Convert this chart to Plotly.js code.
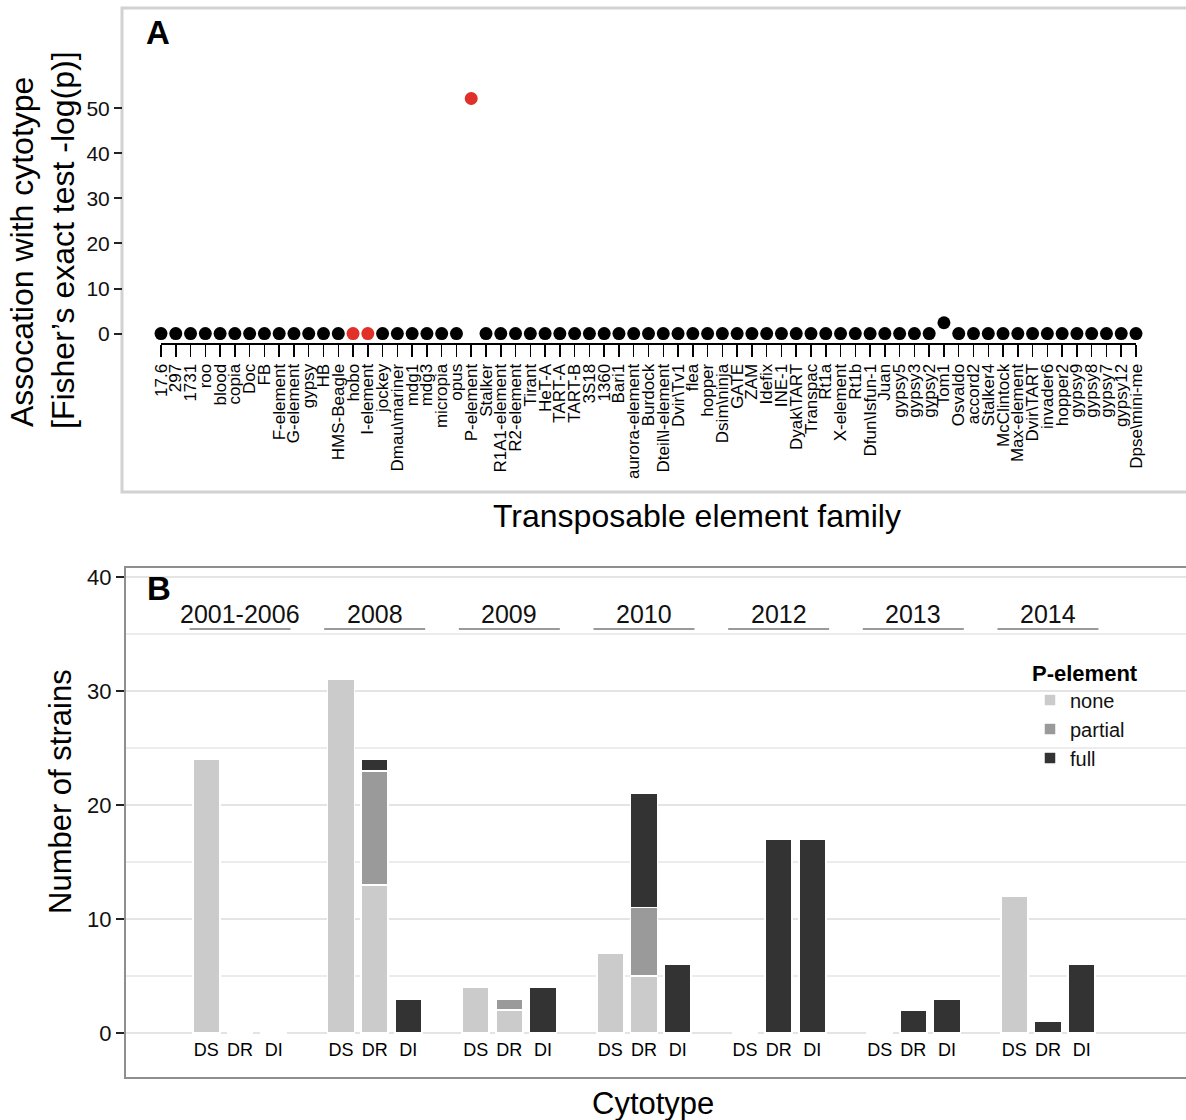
<!DOCTYPE html>
<html>
<head>
<meta charset="utf-8">
<script src="https://cdn.plot.ly/plotly-3.0.1.min.js"></script>
<style>
  html, body { margin: 0; padding: 0; background: #ffffff; }
  #chart { width: 1186px; height: 1120px; }
</style>
</head>
<body>
<div id="chart"></div>
<script>
// ---------- Panel A data ----------
const teFamilies = ['17.6','297','1731','roo','blood','copia','Doc','FB','F-element','G-element','gypsy','HB','HMS-Beagle','hobo','I-element','jockey','Dmau\\mariner','mdg1','mdg3','micropia','opus','P-element','Stalker','R1A1-element','R2-element','Tirant','HeT-A','TART-A','TART-B','3S18','1360','Bari1','aurora-element','Burdock','Dteil\\l-element','Dvir\\Tv1','flea','hopper','Dsim\\ninja','GATE','ZAM','Idefix','INE-1','Dyak\\TART','Transpac','Rt1a','X-element','Rt1b','Dfun\\Isfun-1','Juan','gypsy5','gypsy3','gypsy2','Tom1','Osvaldo','accord2','Stalker4','McClintock','Max-element','Dvir\\TART','invader6','hopper2','gypsy9','gypsy8','gypsy7','gypsy12','Dpse\\mini-me'];
const negLogP = [0,0,0,0,0,0,0,0,0,0,0,0,0,0,0,0,0,0,0,0,0,52.2,0,0,0,0,0,0,0,0,0,0,0,0,0,0,0,0,0,0,0,0,0,0,0,0,0,0,0,0,0,0,0,2.4,0,0,0,0,0,0,0,0,0,0,0,0,0];
const highlighted = ['hobo','I-element','P-element'];
const aTicks = [0,10,20,30,40,50];

// ---------- Panel B data ----------
const years = ['2001-2006','2008','2009','2010','2012','2013','2014'];
const cytotypes = ['DS','DR','DI'];
// values per year, in cytotype order DS, DR, DI
const noneCounts    = [[24,0,0],[31,13,0],[4,2,0],[7,5,0],[0,0,0],[0,0,0],[12,0,0]];
const partialCounts = [[0,0,0],[0,10,0],[0,1,0],[0,6,0],[0,0,0],[0,0,0],[0,0,0]];
const fullCounts    = [[0,0,0],[0,1,3],[0,0,4],[0,10,6],[0,17,17],[0,2,3],[0,1,6]];
const pClasses = ['none','partial','full'];
const bTicks = [0,10,20,30,40];

// ---------- helpers ----------
const W = 1186, H = 1120;
const px = v => v / W;
const py = v => 1 - v / H;
const FONT = 'Liberation Sans, Arial, Helvetica, sans-serif';

const GROUP_STEP = cytotypes.length + 1;
const xPos = [], xLab = [];
years.forEach((y, g) => cytotypes.forEach((c, k) => { xPos.push(g * GROUP_STEP + k); xLab.push(c); }));
const flat = arr => arr.flat();

const classColors = { none: '#cccbcc', partial: '#999a99', full: '#333333' };
const classData = { none: noneCounts, partial: partialCounts, full: fullCounts };

const traces = [];
traces.push({
  type: 'scatter', mode: 'markers',
  x: teFamilies, y: negLogP,
  xaxis: 'x', yaxis: 'y',
  cliponaxis: false,
  showlegend: false,
  marker: { size: 13, color: teFamilies.map(n => highlighted.includes(n) ? '#e12f29' : '#000000') },
  hoverinfo: 'x+y'
});
pClasses.forEach(cls => {
  traces.push({
    type: 'bar', name: cls,
    x: xPos, y: flat(classData[cls]),
    xaxis: 'x2', yaxis: 'y2',
    width: 0.8,
    marker: { color: classColors[cls], line: { color: '#ffffff', width: 1.5 } }
  });
});

const shapes = [
  // panel frames
  { type: 'rect', xref: 'paper', yref: 'paper', x0: px(122), x1: 1.02, y0: py(492), y1: py(8),
    line: { color: '#d2d2d2', width: 3 }, layer: 'below' },
  { type: 'rect', xref: 'paper', yref: 'paper', x0: px(125), x1: 1.02, y0: py(1078), y1: py(567),
    line: { color: '#8f8f8f', width: 2 }, layer: 'above' }
];
const annotations = [
  { text: '<b>A</b>', x: px(158), y: py(32), xref: 'paper', yref: 'paper', showarrow: false,
    font: { size: 33, family: FONT, color: '#000' }, xanchor: 'center', yanchor: 'middle' },
  { text: '<b>B</b>', x: px(159), y: py(588), xref: 'paper', yref: 'paper', showarrow: false,
    font: { size: 33, family: FONT, color: '#000' }, xanchor: 'center', yanchor: 'middle' },
  { text: 'Assocation with cytotype', x: px(22), y: py(252), xref: 'paper', yref: 'paper', showarrow: false,
    textangle: -90, font: { size: 32, family: FONT, color: '#000' }, xanchor: 'center', yanchor: 'middle' },
  { text: '[Fisher\u2019s exact test -log(p)]', x: px(63), y: py(240), xref: 'paper', yref: 'paper', showarrow: false,
    textangle: -90, font: { size: 32, family: FONT, color: '#000' }, xanchor: 'center', yanchor: 'middle' },
  { text: 'Transposable element family', x: px(697), y: py(516), xref: 'paper', yref: 'paper', showarrow: false,
    font: { size: 32, family: FONT, color: '#000' }, xanchor: 'center', yanchor: 'middle' },
  { text: 'Number of strains', x: px(60), y: py(792), xref: 'paper', yref: 'paper', showarrow: false,
    textangle: -90, font: { size: 31, family: FONT, color: '#000' }, xanchor: 'center', yanchor: 'middle' },
  { text: 'Cytotype', x: px(653), y: py(1103), xref: 'paper', yref: 'paper', showarrow: false,
    font: { size: 31, family: FONT, color: '#000' }, xanchor: 'center', yanchor: 'middle' }
];
years.forEach((yr, g) => {
  const c = g * GROUP_STEP + (cytotypes.length - 1) / 2;
  annotations.push({ text: yr, x: c, y: py(614), xref: 'x2', yref: 'paper', showarrow: false,
    font: { size: 25, family: FONT, color: '#111' }, xanchor: 'center', yanchor: 'middle' });
  shapes.push({ type: 'line', xref: 'x2', yref: 'paper', x0: g * GROUP_STEP - 0.5, x1: g * GROUP_STEP + cytotypes.length - 0.5,
    y0: py(629), y1: py(629), line: { color: '#9a9a9a', width: 2 } });
});

const layout = {
  width: W, height: H,
  margin: { l: 0, r: 0, t: 0, b: 0 },
  paper_bgcolor: '#ffffff', plot_bgcolor: 'rgba(0,0,0,0)',
  font: { family: FONT, color: '#000' },
  barmode: 'stack',
  bargap: 0,
  showlegend: true,
  legend: {
    x: px(1030), y: py(652), xanchor: 'left', yanchor: 'top',
    bgcolor: 'rgba(0,0,0,0)', traceorder: 'normal', tracegroupgap: 0,
    font: { size: 20, family: FONT, color: '#111' },
    title: { text: '<b>P-element</b>', font: { size: 22, family: FONT, color: '#000' } }
  },
  xaxis: {
    domain: [px(161), px(1136)],
    type: 'category', range: [0, teFamilies.length - 1],
    tickmode: 'array', tickvals: teFamilies, ticktext: teFamilies,
    tickangle: -90, tickfont: { size: 17, family: FONT, color: '#000' },
    ticks: 'outside', ticklen: 12, tickwidth: 1.5, tickcolor: '#000',
    showline: true, linecolor: '#000', linewidth: 2,
    showgrid: false, zeroline: false, fixedrange: true
  },
  yaxis: {
    domain: [py(343), py(8)], anchor: 'free', position: px(122),
    range: [-2.1, 72.3],
    tickmode: 'array', tickvals: aTicks, ticktext: aTicks.map(String),
    tickfont: { size: 21, family: FONT, color: '#111' },
    ticks: 'outside', ticklen: 8, tickwidth: 2, tickcolor: '#222',
    showline: false, showgrid: false, zeroline: false, fixedrange: true
  },
  xaxis2: {
    domain: [px(125), 1], anchor: 'y2',
    range: [-2.416, 29.1],
    tickmode: 'array', tickvals: xPos, ticktext: xLab,
    tickfont: { size: 18, family: FONT, color: '#000' },
    ticks: '', showline: false, showgrid: false, zeroline: false, fixedrange: true
  },
  yaxis2: {
    domain: [py(1037), py(567)], anchor: 'x2',
    range: [-0.35, 40.88],
    tickmode: 'array', tickvals: bTicks, ticktext: bTicks.map(String),
    tickfont: { size: 22, family: FONT, color: '#111' },
    ticks: 'outside', ticklen: 8, tickwidth: 2, tickcolor: '#222',
    showline: false, zeroline: false,
    showgrid: true, gridcolor: '#e4e4e4', gridwidth: 1.5,
    minor: { dtick: 5, tick0: 0, showgrid: true, gridcolor: '#ececec', gridwidth: 1.5, ticks: '' },
    fixedrange: true
  },
  shapes: shapes,
  annotations: annotations
};

Plotly.newPlot('chart', traces, layout, { staticPlot: true, displayModeBar: false });
</script>
</body>
</html>
